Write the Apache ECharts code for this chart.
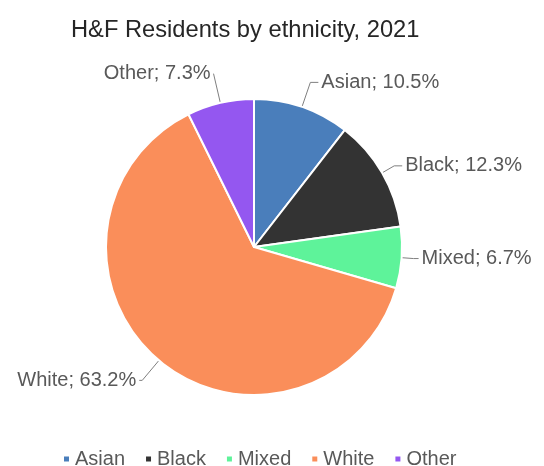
<!DOCTYPE html>
<html>
<head>
<meta charset="utf-8">
<script src="https://cdn.jsdelivr.net/npm/echarts@6/dist/echarts.min.js"></script>
<style>
  html, body { margin: 0; padding: 0; background: #fff; }
  #chart { width: 544px; height: 466px; }
</style>
</head>
<body>
<div id="chart"></div>
<script>
const categories = ['Asian', 'Black', 'Mixed', 'White', 'Other']
const shares     = [10.5, 12.3, 6.7, 63.2, 7.3]
const colors     = ['#4a7ebb', '#333333', '#5ef39a', '#fa8e5a', '#9457f0']

const chart = echarts.init(document.getElementById('chart'), null, { renderer: 'canvas' })

// leader-line tweaks per slice so labels sit roughly where Excel put them
const leader = {
  Asian: { length: 26, length2: 8 },
  Black: { length: 14, length2: 8 },
  Mixed: { length: 12, length2: 5 },
  White: { length: 26, length2: 3 },
  Other: { length: 30, length2: 0 },
}

chart.setOption({
  backgroundColor: '#fff',
  animation: false,
  title: {
    text: 'H&F Residents by ethnicity, 2021',
    left: 66, top: 13,
    textStyle: { color: '#262626', fontSize: 23.7, fontWeight: 'normal', fontFamily: 'Liberation Sans, Arial' },
  },
  legend: {
    top: 444, left: 57,
    icon: 'rect', itemWidth: 7, itemHeight: 7, itemGap: 19,
    textStyle: { color: '#595959', fontSize: 20, fontFamily: 'Liberation Sans, Arial' },
  },
  color: colors,
  series: [{
    type: 'pie',
    center: [254, 247],
    radius: 148,
    startAngle: 90,
    clockwise: true,
    itemStyle: { borderColor: '#fff', borderWidth: 2 },
    label: {
      formatter: (p) => `${p.name}; ${p.value}%`,
      color: '#595959', fontSize: 20, fontFamily: 'Liberation Sans, Arial',
      overflow: 'none', distanceToLabelLine: 3,
    },
    edgeDistance: 0,
    labelLine: { lineStyle: { color: '#7f7f7f' } },
    data: categories.map((c, i) => ({
      name: c, value: shares[i],
      labelLine: leader[c],
    })),
  }],
})
</script>
</body>
</html>
